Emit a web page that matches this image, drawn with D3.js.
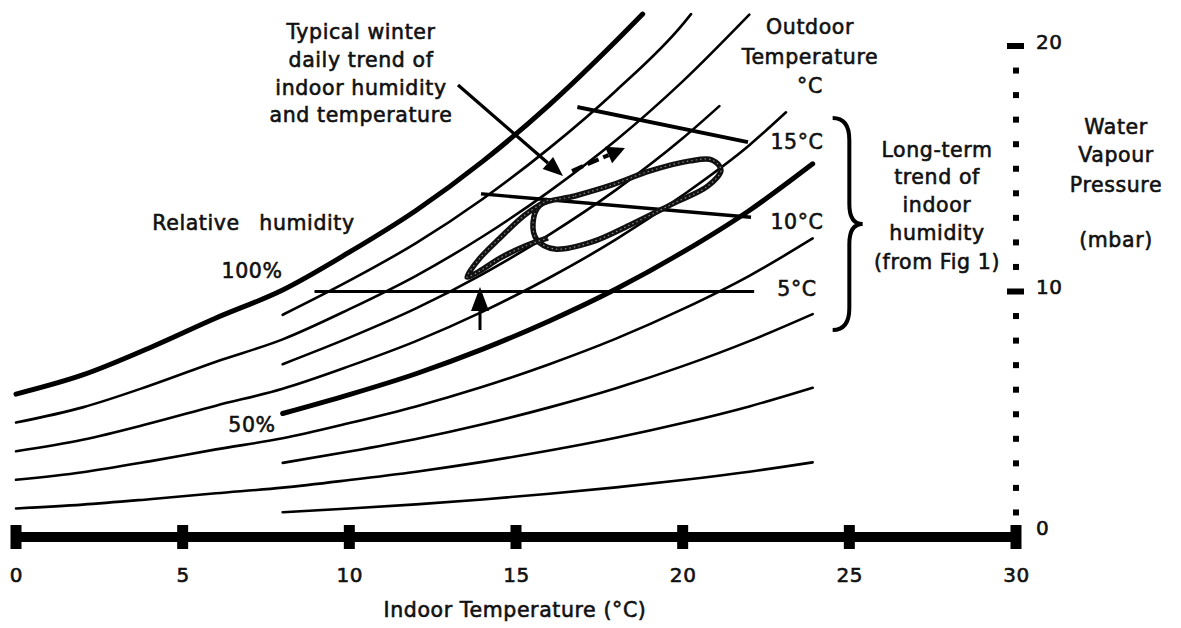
<!DOCTYPE html>
<html>
<head>
<meta charset="utf-8">
<script src="https://cdn.jsdelivr.net/npm/d3@7"></script>
<style>
  body { margin: 0; background: #fff; }
  svg text { font-family: "DejaVu Sans", sans-serif; font-size: 20.5px; fill: #111; stroke: #111; stroke-width: 0.6px; letter-spacing: 0.6px; }
</style>
</head>
<body>
<div id="chart"></div>
<script>
// ---- data: [indoor temp °C, vapour pressure mbar] ----
const rh100 = [[0,5.82],[2,6.6],[4,7.7],[6,8.92],[8,10.06],[10,11.6],[12,13.3],[14,15.3],[16,17.6],[18,20.2],[18.8,21.3]];
const rh90 = [[8,9.05],[10,10.44],[12,11.97],[14,13.77],[16,15.84],[18,18.18],[20,20.88],[20.25,21.3]];
const rh80 = [[0,4.66],[2,5.28],[4,6.16],[6,7.14],[8,8.05],[10,9.28],[12,10.64],[14,12.24],[16,14.08],[18,16.16],[20,18.56],[22,21.28]];
const rh70 = [[8,7.04],[10,8.12],[12,9.31],[14,10.71],[16,12.32],[18,14.14],[20,16.24],[21.1,17.55]];
const rh60 = [[0,3.49],[2,3.96],[4,4.62],[6,5.35],[8,6.04],[10,6.96],[12,7.98],[14,9.18],[16,10.56],[18,12.12],[20,13.92],[22,15.96],[23.1,17.3]];
const rh50 = [[8,5.03],[10,5.8],[12,6.65],[14,7.65],[16,8.8],[18,10.1],[20,11.6],[22,13.3],[23.9,15.2]];
const rh40 = [[0,2.33],[2,2.64],[4,3.08],[6,3.57],[8,4.02],[10,4.64],[12,5.32],[14,6.12],[16,7.04],[18,8.08],[20,9.28],[22,10.64],[23.9,12.16]];
const rh30 = [[8,3.02],[10,3.48],[12,3.99],[14,4.59],[16,5.28],[18,6.06],[20,6.96],[22,7.98],[23.9,9.08]];
const rh20 = [[0,1.16],[2,1.32],[4,1.54],[6,1.78],[8,2.01],[10,2.32],[12,2.66],[14,3.06],[16,3.52],[18,4.04],[20,4.64],[22,5.32],[23.9,6.08]];
const rh10 = [[8,1.01],[10,1.16],[12,1.33],[14,1.53],[16,1.76],[18,2.02],[20,2.32],[22,2.66],[23.9,3.04]];

// outdoor temperature lines
const outdoor15 = [[16.9,17.5],[21.9,16.1]];
const outdoor10 = [[14.0,13.97],[22.0,13.03]];
const outdoor5 = [[9.0,10.0],[22.1,10.0]];

// daily trend loop
const dailyEllipse = [[15.72,13.52],[16.77,13.89],[17.88,14.34],[19.02,14.91],[20.22,15.32],[20.88,15.36],[21.15,14.95],[20.76,14.3],[19.68,13.56],[18.48,12.75],[17.28,12.02],[16.17,11.73],[15.63,12.1],[15.51,12.79]];
const dailyTail = [[15.96,13.73],[15.27,13.12],[14.52,12.18],[13.92,11.36],[13.53,10.59],[13.86,10.79],[14.52,11.36],[15.27,11.85],[15.96,12.18]];

const annotArrow = [[13.26,18.41],[16.41,14.7]];
const dirArrow = [[16.68,14.91],[18.27,15.85]];
const upArrow = [[13.92,8.43],[13.92,10.18]];

const xTicks = [0, 5, 10, 15, 20, 25, 30];
const yTicks = [0, 10, 20];

(function () {
  "use strict";

  const W = 1181, H = 628;
  const x = d3.scaleLinear().domain([0, 30]).range([16, 1016]);
  const y = d3.scaleLinear().domain([0, 20]).range([537, 46]);

  const svg = d3.select("#chart").append("svg")
    .attr("width", W).attr("height", H)
    .style("background", "#fff");

  const line = d3.line().x(d => x(d[0])).y(d => y(d[1])).curve(d3.curveMonotoneX);

  // relative humidity curves
  const curves = [
    { name: "100%", pts: rh100, w: 5 },
    { name: "90%", pts: rh90, w: 2.6 },
    { name: "80%", pts: rh80, w: 2.6 },
    { name: "70%", pts: rh70, w: 2.6 },
    { name: "60%", pts: rh60, w: 2.6 },
    { name: "50%", pts: rh50, w: 5 },
    { name: "40%", pts: rh40, w: 2.6 },
    { name: "30%", pts: rh30, w: 2.6 },
    { name: "20%", pts: rh20, w: 2.6 },
    { name: "10%", pts: rh10, w: 2.6 }
  ];

  svg.append("g").attr("class", "rh")
    .selectAll("path")
    .data(curves)
    .enter()
    .append("path")
    .attr("d", d => line(d.pts))
    .attr("fill", "none")
    .attr("stroke", "#000")
    .attr("stroke-width", d => d.w)
    .attr("stroke-linecap", "round");

  // outdoor temperature lines
  const straight = d3.line().x(d => x(d[0])).y(d => y(d[1]));
  const outdoor = [
    { pts: outdoor15, w: 4, label: "15°C", ly: 142 },
    { pts: outdoor10, w: 3.4, label: "10°C", ly: 222 },
    { pts: outdoor5, w: 3, label: "5°C", ly: 289 }
  ];
  svg.append("g").selectAll("path")
    .data(outdoor).enter().append("path")
    .attr("d", d => straight(d.pts))
    .attr("stroke", "#000")
    .attr("stroke-width", d => d.w)
    .attr("stroke-linecap", "square");
  svg.append("g").selectAll("text")
    .data(outdoor).enter().append("text")
    .attr("x", 797).attr("y", d => d.ly)
    .attr("text-anchor", "middle")
    .attr("dominant-baseline", "central")
    .text(d => d.label);

  // daily trend loop (hatched look)
  const closed = d3.line().x(d => x(d[0])).y(d => y(d[1])).curve(d3.curveCatmullRomClosed);
  const open = d3.line().x(d => x(d[0])).y(d => y(d[1])).curve(d3.curveCatmullRom);
  const loopG = svg.append("g");
  [[closed, dailyEllipse], [open, dailyTail]].forEach(([gen, pts]) => {
    loopG.append("path").attr("d", gen(pts)).attr("fill", "none")
      .attr("stroke", "#111").attr("stroke-width", 5.5).attr("stroke-linejoin", "round");
    loopG.append("path").attr("d", gen(pts)).attr("fill", "none")
      .attr("stroke", "#888").attr("stroke-width", 1.2).attr("stroke-dasharray", "1.5 3");
  });

  // arrows
  function arrow(pts, opts) {
    const [a, b] = pts.map(p => [x(p[0]), y(p[1])]);
    const ang = Math.atan2(b[1] - a[1], b[0] - a[0]);
    const len = opts.head, hw = opts.hw;
    const base = [b[0] - len * Math.cos(ang), b[1] - len * Math.sin(ang)];
    const px = -Math.sin(ang) * hw, py = Math.cos(ang) * hw;
    svg.append("line")
      .attr("x1", a[0]).attr("y1", a[1]).attr("x2", base[0]).attr("y2", base[1])
      .attr("stroke", "#000").attr("stroke-width", opts.w)
      .attr("stroke-dasharray", opts.dash || null);
    svg.append("path")
      .attr("d", `M${b[0]},${b[1]}L${base[0] + px},${base[1] + py}L${base[0] - px},${base[1] - py}Z`)
      .attr("fill", "#000");
  }
  arrow(annotArrow, { w: 3.2, head: 20, hw: 8 });
  arrow(dirArrow, { w: 4, head: 18, hw: 9, dash: "12 5" });
  arrow(upArrow, { w: 3, head: 24, hw: 9 });

  // brace for long-term trend
  const bTop = y(17.07), bBot = y(8.43), bMid = y(12.75);
  const bx0 = x(24.5), bx1 = x(25.0), bTip = x(25.4);
  svg.append("path")
    .attr("d", `M${bx0},${bTop} Q${bx1},${bTop} ${bx1},${bTop + 22} L${bx1},${bMid - 20} Q${bx1},${bMid} ${bTip},${bMid}` +
      ` Q${bx1},${bMid} ${bx1},${bMid + 20} L${bx1},${bBot - 22} Q${bx1},${bBot} ${bx0},${bBot}`)
    .attr("fill", "none").attr("stroke", "#000").attr("stroke-width", 4);

  // bottom axis
  const xAxis = svg.append("g").attr("transform", `translate(0,${y(0)})`)
    .call(d3.axisBottom(x).tickValues(xTicks).tickSize(0).tickPadding(31).tickFormat(d3.format("d")));
  xAxis.select(".domain").remove();
  xAxis.selectAll("text").attr("fill", "#111").style("font-size", "20px").style("font-family", "DejaVu Sans");

  svg.append("line")
    .attr("x1", x(0)).attr("x2", x(30)).attr("y1", y(0)).attr("y2", y(0))
    .attr("stroke", "#000").attr("stroke-width", 10);
  svg.append("g").selectAll("rect")
    .data(xTicks).enter().append("rect")
    .attr("x", d => x(d) - 5.5).attr("y", y(0) - 12)
    .attr("width", 11).attr("height", 24).attr("fill", "#000");

  // right axis: dotted
  svg.append("g").selectAll("rect")
    .data(y.ticks(20).filter(d => d > 0)).enter().append("rect")
    .attr("x", d => (d % 10 === 0 ? x(30) - 9 : x(30) - 3))
    .attr("y", d => y(d) - 3)
    .attr("width", d => (d % 10 === 0 ? 17 : 6))
    .attr("height", 6)
    .attr("fill", "#000");

  const yAxis = svg.append("g").attr("transform", `translate(${x(30)},0)`)
    .call(d3.axisRight(y).tickValues(yTicks).tickSize(0).tickPadding(20).tickFormat(d3.format("d")));
  yAxis.select(".domain").remove();
  yAxis.selectAll("text").attr("fill", "#111").style("font-size", "20px").style("font-family", "DejaVu Sans")
    .attr("dy", d => (d === 0 ? "-0.15em" : "0.1em"));

  // text labels
  function block(lines, cx, ys) {
    const g = svg.append("g");
    lines.forEach((t, i) => {
      g.append("text").attr("x", cx).attr("y", ys[i])
        .attr("text-anchor", "middle").attr("dominant-baseline", "central")
        .text(t);
    });
  }
  block(["Typical winter", "daily trend of", "indoor humidity", "and temperature"], 361, [32, 60, 88, 115]);
  block(["Outdoor", "Temperature", "°C"], 810, [27, 57, 86]);
  block(["Long-term", "trend of", "indoor", "humidity", "(from Fig 1)"], 937, [150, 177, 205, 233, 262]);
  block(["Water", "Vapour", "Pressure", "(mbar)"], 1116, [127, 155, 185, 240]);
  block(["Relative"], 196, [223]);
  block(["humidity"], 307, [223]);
  block(["100%"], 252, [271]);
  block(["50%"], 252, [425]);
  block(["Indoor Temperature (°C)"], 515, [610]);
})();
</script>
</body>
</html>
